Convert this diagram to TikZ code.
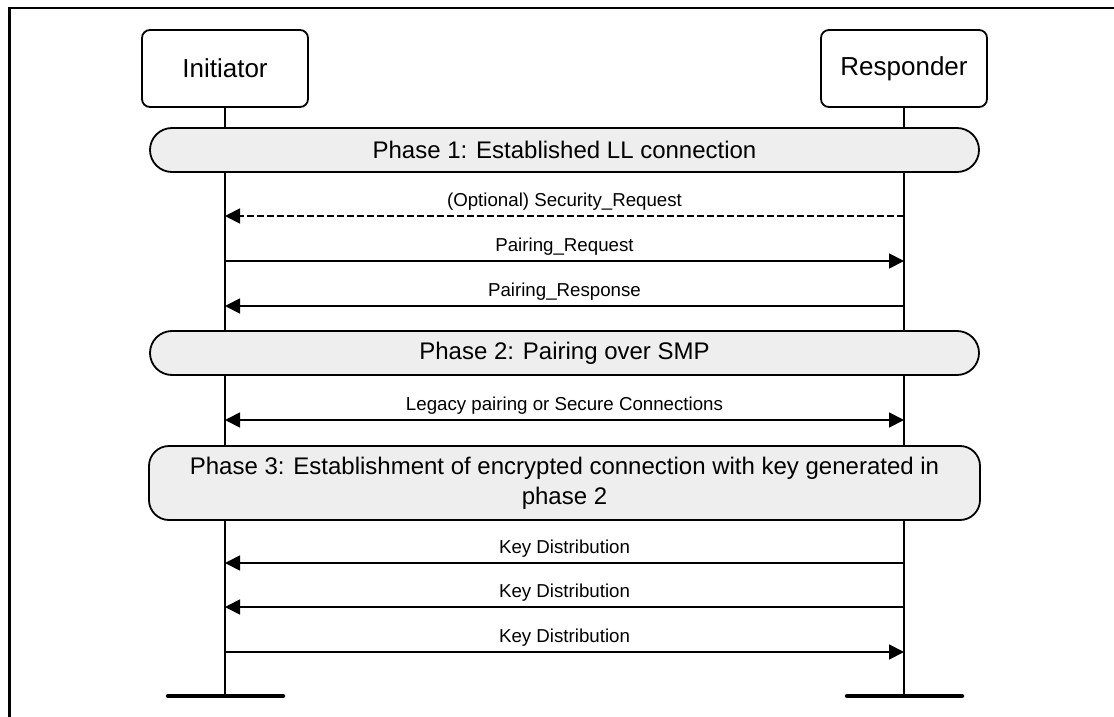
\documentclass[tikz,border=0pt]{standalone}
\usepackage{fontspec}
\setmainfont{Liberation Sans}
\usetikzlibrary{arrows.meta}
\definecolor{phasefill}{HTML}{EEEEEE}
\begin{document}
\begin{tikzpicture}[x=1pt,y=-1pt,
  actor/.style={draw, line width=1.8pt, rounded corners=8pt, minimum width=166pt, minimum height=77pt, inner sep=0pt, font=\fontsize{26}{31}\selectfont},
  phase/.style={draw, line width=1.8pt, fill=phasefill, minimum width=829pt, inner sep=0pt, font=\fontsize{24}{30}\selectfont},
  life/.style={line width=1.8pt},
  msg/.style={line width=1.8pt, -{Triangle[length=15pt,width=15pt]}},
  dmsg/.style={msg, {Triangle[length=15pt,width=15pt]}-{Triangle[length=15pt,width=15pt]}},
  optmsg/.style={msg, dash pattern=on 7pt off 3pt},
  lbl/.style={inner sep=0pt, font=\fontsize{18.7}{22}\selectfont},
  foot/.style={line width=4.5pt, line cap=round},
  frame/.style={line width=2.5pt}
]
\useasboundingbox (0,0) rectangle (1114,717);
% frame
\coordinate (fa) at (9.5,717);
\coordinate (fb) at (9.5,8);
\coordinate (fc) at (1114,8);
\draw[frame] (fa) -- (fb) -- (fc);

% actors
\node[actor] (ini) at (225,68.5) {Initiator};
\node[actor] (res) at (904,68.5) {Responder};

% lifeline ends and feet
\coordinate (iend) at (225,696);
\coordinate (rend) at (904,696);
\coordinate (ifl) at (168,696);
\coordinate (ifr) at (283,696);
\coordinate (rfl) at (847,696);
\coordinate (rfr) at (962,696);
\draw[life] (ini.south) -- (iend);
\draw[life] (res.south) -- (rend);
\draw[foot] (ifl) -- (ifr);
\draw[foot] (rfl) -- (rfr);

% phases
\node[phase, rounded corners=22pt, minimum height=44pt] (p1) at (564.5,150) {Phase 1: Established LL connection};
\node[phase, rounded corners=22pt, minimum height=44pt] (p2) at (564.5,353) {Phase 2: Pairing over SMP};
\node[phase, rounded corners=20pt, minimum width=831pt, minimum height=74pt, align=center] (p3) at (564.5,483)
  {Phase 3: Establishment of encrypted connection with key generated in\\phase 2};

% message anchor points
\coordinate (i1) at (225,216); \coordinate (r1) at (904,216);
\coordinate (i2) at (225,261); \coordinate (r2) at (904,261);
\coordinate (i3) at (225,306); \coordinate (r3) at (904,306);
\coordinate (i4) at (225,420); \coordinate (r4) at (904,420);
\coordinate (i5) at (225,563); \coordinate (r5) at (904,563);
\coordinate (i6) at (225,607); \coordinate (r6) at (904,607);
\coordinate (i7) at (225,652); \coordinate (r7) at (904,652);

\draw[optmsg] (r1) -- (i1);
\draw[msg] (i2) -- (r2);
\draw[msg] (r3) -- (i3);
\draw[dmsg] (i4) -- (r4);
\draw[msg] (r5) -- (i5);
\draw[msg] (r6) -- (i6);
\draw[msg] (i7) -- (r7);

% labels
\node[lbl] (l1) at (564.5,202) {(Optional) Security\_Request};
\node[lbl] (l2) at (564.5,247) {Pairing\_Request};
\node[lbl] (l3) at (564.5,292) {Pairing\_Response};
\node[lbl] (l4) at (564.5,406) {Legacy pairing or Secure Connections};
\node[lbl] (l5) at (564.5,549) {Key Distribution};
\node[lbl] (l6) at (564.5,593) {Key Distribution};
\node[lbl] (l7) at (564.5,638) {Key Distribution};
\end{tikzpicture}
\end{document}
